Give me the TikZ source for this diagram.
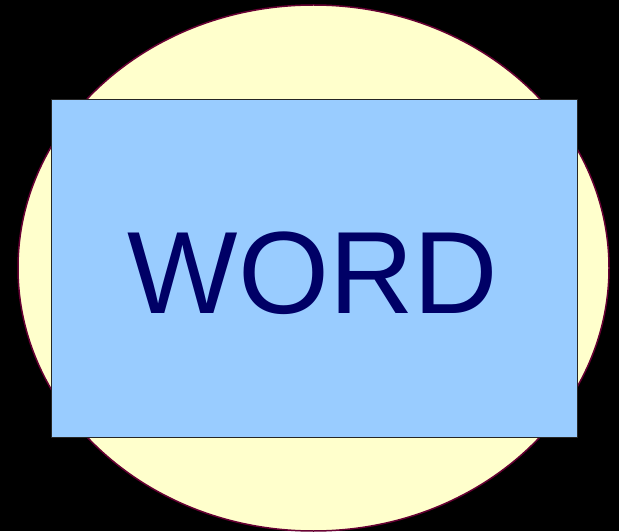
\documentclass[tikz,border=0pt]{standalone}
\usepackage{fontspec}
\setmainfont{Liberation Sans}
\definecolor{paleyellow}{HTML}{FFFFCC}
\definecolor{maroonline}{HTML}{660033}
\definecolor{skyblue}{HTML}{99CCFF}
\definecolor{navytext}{HTML}{000066}

\begin{document}
\begin{tikzpicture}[x=1pt,y=1pt,line join=round,
    blob/.style={fill=paleyellow,draw=maroonline,line width=1.5pt},
    card/.style={draw=black!85,fill=skyblue,line width=1pt},
    bigword/.style={text=navytext,font=\fontsize{117}{117}\selectfont,inner sep=0pt,anchor=base}]
  \fill[black] (0,0) rectangle (619,531);
  \useasboundingbox (0,0) rectangle (619,531);
  \draw[blob] (313.5,263) ellipse (295.5 and 263);
  \node[card,minimum width=526pt,minimum height=337pt,inner sep=0pt] (box) at (314,262.5) {};
  \node[bigword] (word) at (313,217) {WORD};
\end{tikzpicture}
\end{document}
